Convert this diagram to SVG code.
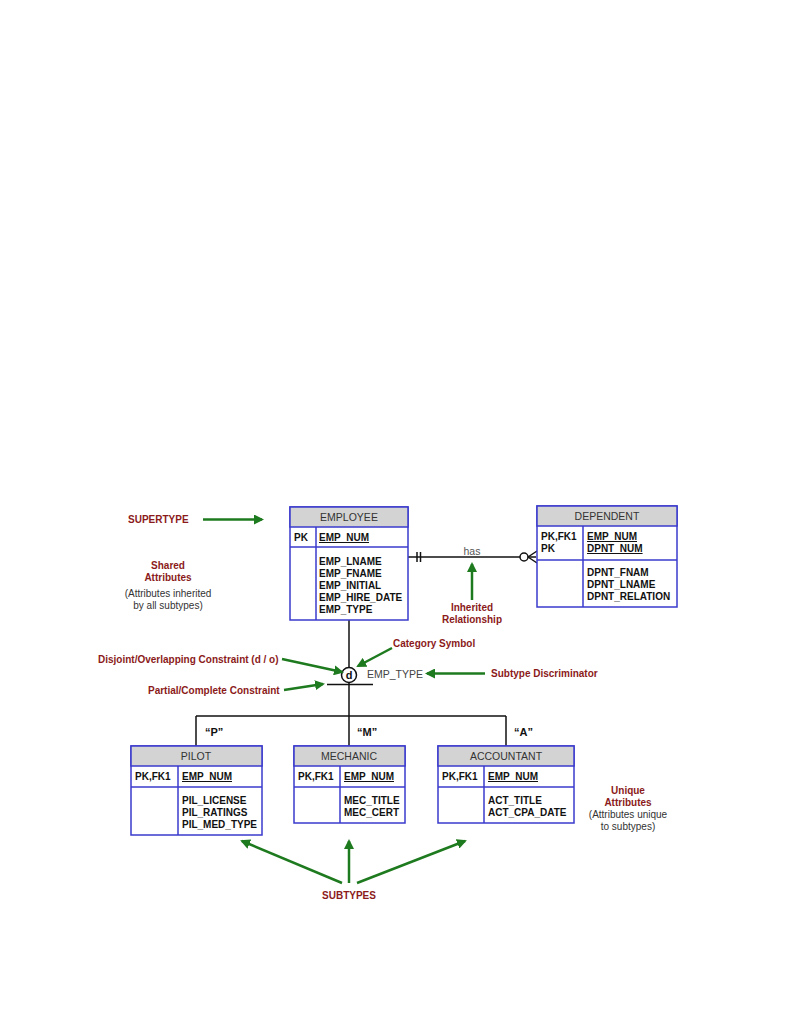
<svg xmlns="http://www.w3.org/2000/svg" width="794" height="1028" viewBox="0 0 794 1028">
<defs>
<marker id="ah" markerWidth="10" markerHeight="10" refX="8" refY="5" orient="auto" markerUnits="userSpaceOnUse" viewBox="0 0 10 10">
<path d="M0,0 L10,5 L0,10 z" fill="#1e7a1e"/>
</marker>
<style>
.box{fill:#fff;stroke:#3a3acc;stroke-width:1.5}
.hdr{fill:#d3d3d3;stroke:#3a3acc;stroke-width:1.5}
.ln{stroke:#3a3acc;stroke-width:1.5}
.ht{font-family:"Liberation Sans",Arial,sans-serif;font-size:10.5px;fill:#333;text-anchor:middle}
.at{font-family:"Liberation Sans",Arial,sans-serif;font-size:10px;font-weight:bold;fill:#111}
.u{text-decoration:underline}
.lbl{font-family:"Liberation Sans",Arial,sans-serif;font-size:10px;font-weight:bold;fill:#8b1a1a}
.note{font-family:"Liberation Sans",Arial,sans-serif;font-size:10px;fill:#333;text-anchor:middle}
.arr{stroke:#1e7a1e;stroke-width:2.5;fill:none;marker-end:url(#ah)}
.con{stroke:#111;stroke-width:1.5;fill:none}
.q{font-family:"Liberation Sans",Arial,sans-serif;font-size:11px;font-weight:bold;fill:#111}
</style>
</defs>
<rect width="794" height="1028" fill="#fff"/>

<g id="connectors">
<line class="con" x1="408" y1="557" x2="536" y2="557"/>
<line class="con" x1="417" y1="552" x2="417" y2="562"/>
<line class="con" x1="420.5" y1="552" x2="420.5" y2="562"/>
<circle cx="524" cy="557" r="4" fill="#fff" stroke="#111" stroke-width="1.5"/>
<path class="con" d="M528,557 L537,551 M528,557 L537,563"/>
<text x="472" y="555" class="ht" style="fill:#555">has</text>
<line class="con" x1="349" y1="620" x2="349" y2="667"/>
<line class="con" x1="349" y1="682" x2="349" y2="716"/>
<line class="con" x1="327" y1="684.5" x2="373" y2="684.5"/>
<line class="con" x1="196" y1="716" x2="506" y2="716"/>
<line class="con" x1="196" y1="716" x2="196" y2="746"/>
<line class="con" x1="349" y1="716" x2="349" y2="746"/>
<line class="con" x1="506" y1="716" x2="506" y2="746"/>
<text x="205" y="736" class="q">“P”</text>
<text x="357" y="736" class="q">“M”</text>
<text x="514" y="736" class="q">“A”</text>
</g>

<g id="category">
<circle cx="349" cy="675" r="7.5" fill="#fff" stroke="#111" stroke-width="1.5"/>
<text x="349" y="679" class="at" text-anchor="middle" style="font-size:11px">d</text>
<text x="367" y="678" class="ht" style="text-anchor:start;fill:#444">EMP_TYPE</text>
</g>

<g id="employee">
<rect class="box" x="290" y="507" width="118" height="113"/>
<rect class="hdr" x="290" y="507" width="118" height="20"/>
<line class="ln" x1="290" y1="547" x2="408" y2="547"/>
<line class="ln" x1="316" y1="527" x2="316" y2="620"/>
<text x="349" y="521" class="ht">EMPLOYEE</text>
<text x="294" y="541" class="at">PK</text>
<text x="319" y="541" class="at u">EMP_NUM</text>
<text x="319" y="565" class="at">EMP_LNAME</text>
<text x="319" y="577" class="at">EMP_FNAME</text>
<text x="319" y="589" class="at">EMP_INITIAL</text>
<text x="319" y="601" class="at">EMP_HIRE_DATE</text>
<text x="319" y="613" class="at">EMP_TYPE</text>
</g>

<g id="dependent">
<rect class="box" x="537" y="506" width="140" height="101"/>
<rect class="hdr" x="537" y="506" width="140" height="20"/>
<line class="ln" x1="537" y1="560" x2="677" y2="560"/>
<line class="ln" x1="583" y1="526" x2="583" y2="607"/>
<text x="607" y="520" class="ht">DEPENDENT</text>
<text x="541" y="540" class="at">PK,FK1</text>
<text x="541" y="552" class="at">PK</text>
<text x="587" y="540" class="at u">EMP_NUM</text>
<text x="587" y="552" class="at u">DPNT_NUM</text>
<text x="587" y="576" class="at">DPNT_FNAM</text>
<text x="587" y="588" class="at">DPNT_LNAME</text>
<text x="587" y="600" class="at">DPNT_RELATION</text>
</g>

<g id="pilot">
<rect class="box" x="131" y="746" width="131" height="89"/>
<rect class="hdr" x="131" y="746" width="131" height="20"/>
<line class="ln" x1="131" y1="787" x2="262" y2="787"/>
<line class="ln" x1="178" y1="766" x2="178" y2="835"/>
<text x="196" y="760" class="ht">PILOT</text>
<text x="135" y="780" class="at">PK,FK1</text>
<text x="182" y="780" class="at u">EMP_NUM</text>
<text x="182" y="804" class="at">PIL_LICENSE</text>
<text x="182" y="816" class="at">PIL_RATINGS</text>
<text x="182" y="828" class="at">PIL_MED_TYPE</text>
</g>

<g id="mechanic">
<rect class="box" x="294" y="746" width="111" height="77"/>
<rect class="hdr" x="294" y="746" width="111" height="20"/>
<line class="ln" x1="294" y1="787" x2="405" y2="787"/>
<line class="ln" x1="340" y1="766" x2="340" y2="823"/>
<text x="349" y="760" class="ht">MECHANIC</text>
<text x="298" y="780" class="at">PK,FK1</text>
<text x="344" y="780" class="at u">EMP_NUM</text>
<text x="344" y="804" class="at">MEC_TITLE</text>
<text x="344" y="816" class="at">MEC_CERT</text>
</g>

<g id="accountant">
<rect class="box" x="438" y="746" width="136" height="77"/>
<rect class="hdr" x="438" y="746" width="136" height="20"/>
<line class="ln" x1="438" y1="787" x2="574" y2="787"/>
<line class="ln" x1="484" y1="766" x2="484" y2="823"/>
<text x="506" y="760" class="ht">ACCOUNTANT</text>
<text x="442" y="780" class="at">PK,FK1</text>
<text x="488" y="780" class="at u">EMP_NUM</text>
<text x="488" y="804" class="at">ACT_TITLE</text>
<text x="488" y="816" class="at">ACT_CPA_DATE</text>
</g>

<g id="annotations">
<text x="128" y="523" class="lbl">SUPERTYPE</text>
<line class="arr" x1="203" y1="519.5" x2="262" y2="519.5"/>
<text x="168" y="569" class="lbl" text-anchor="middle">Shared</text>
<text x="168" y="581" class="lbl" text-anchor="middle">Attributes</text>
<text x="168" y="597" class="note">(Attributes inherited</text>
<text x="168" y="609" class="note">by all subtypes)</text>
<line class="arr" x1="472" y1="600" x2="472" y2="564"/>
<text x="472" y="611" class="lbl" text-anchor="middle">Inherited</text>
<text x="472" y="623" class="lbl" text-anchor="middle">Relationship</text>
<text x="393" y="647" class="lbl">Category Symbol</text>
<line class="arr" x1="392" y1="648" x2="358" y2="666"/>
<text x="98" y="663" class="lbl">Disjoint/Overlapping Constraint (d / o)</text>
<line class="arr" x1="282" y1="659" x2="342" y2="672"/>
<text x="148" y="694" class="lbl">Partial/Complete Constraint</text>
<line class="arr" x1="284" y1="690" x2="323" y2="684"/>
<text x="491" y="677" class="lbl">Subtype Discriminator</text>
<line class="arr" x1="485" y1="673.5" x2="427" y2="673.5"/>
<text x="628" y="794" class="lbl" text-anchor="middle">Unique</text>
<text x="628" y="806" class="lbl" text-anchor="middle">Attributes</text>
<text x="628" y="818" class="note">(Attributes unique</text>
<text x="628" y="830" class="note">to subtypes)</text>
<line class="arr" x1="342" y1="883" x2="242" y2="841"/>
<line class="arr" x1="349" y1="883" x2="349" y2="841"/>
<line class="arr" x1="357" y1="883" x2="465" y2="841"/>
<text x="349" y="899" class="lbl" text-anchor="middle">SUBTYPES</text>
</g>
</svg>
